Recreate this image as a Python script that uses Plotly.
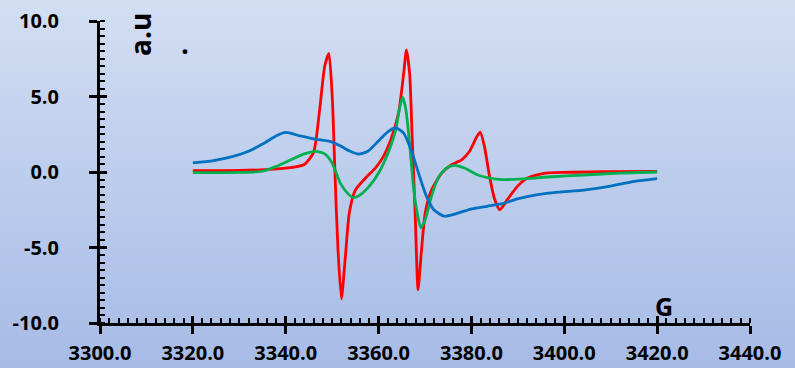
import plotly.graph_objects as go

# ---- data ----
red_x = [3320, 3330, 3340, 3344, 3346, 3347.3, 3348.4, 3349.3, 3350.05, 3350.6, 3351.25, 3352.0,
         3352.8, 3353.7, 3355.0, 3357.2, 3359.3, 3361.0, 3362.6, 3364.3, 3365.4, 3366.0, 3366.7,
         3367.2, 3367.9, 3368.5, 3369.2, 3370.05, 3371.4, 3373.6, 3375.7, 3377.9, 3379.6, 3381.2,
         3381.9, 3382.8, 3383.9, 3385.0, 3386.1, 3387.8, 3389.9, 3392.1, 3395.4, 3399.8, 3409.6, 3420]
red_y = [0.09, 0.1, 0.25, 0.5, 1.3, 4.1, 7.0, 7.86, 4.8, 0.0, -5.1, -8.4,
         -5.8, -2.7, -1.2, -0.4, 0.26, 1.0, 2.1, 3.9, 6.5, 8.08, 6.5,
         2.6, -2.9, -7.8, -5.35, -2.7, -1.2, -0.07, 0.48, 0.8, 1.37, 2.36,
         2.64, 1.7, -0.29, -1.8, -2.5, -1.8, -0.95, -0.4, -0.1, -0.02, 0.02, 0.04]

green_x = [3320, 3330, 3335, 3338, 3341, 3344, 3346.4, 3348.4, 3350, 3351.7, 3353.3, 3354.6,
           3356.1, 3358.3, 3360.4, 3362.6, 3363.7, 3364.6, 3365.2, 3365.9, 3366.8, 3367.5,
           3368.3, 3369.1, 3370.05, 3371.4, 3373.0, 3374.6, 3376.3, 3378.5, 3381.2, 3383.9,
           3386.7, 3391.0, 3396.5, 3404.2, 3411.8, 3420]
green_y = [-0.04, -0.03, 0.05, 0.37, 0.8, 1.2, 1.37, 1.2, 0.6, -0.7, -1.4, -1.7,
           -1.5, -0.84, 0.15, 1.7, 2.8, 4.34, 4.96, 4.1, 1.5, -0.95,
           -2.7, -3.7, -3.15, -1.6, -0.29, 0.26, 0.44, 0.26, -0.18, -0.4,
           -0.5, -0.46, -0.33, -0.2, -0.07, 0.0]

blue_x = [3320, 3324.4, 3328.7, 3332, 3335.3, 3338.0, 3340, 3343, 3346.2, 3349.5, 3351.7, 3353.9,
          3355.7, 3357.7, 3359.9, 3362.1, 3363.7, 3365.4, 3367.0, 3368.6, 3370.3, 3371.9, 3374.1,
          3376.8, 3380.1, 3383.4, 3386.7, 3389.9, 3394.3, 3398.7, 3404.2, 3409.6, 3415.1, 3420]
blue_y = [0.6, 0.75, 1.03, 1.37, 1.9, 2.4, 2.62, 2.4, 2.18, 2.03, 1.74, 1.37,
          1.19, 1.37, 2.03, 2.69, 2.93, 2.58, 1.48, -0.07, -1.6, -2.5, -2.93,
          -2.75, -2.44, -2.27, -2.1, -1.78, -1.5, -1.34, -1.2, -0.95, -0.62, -0.44]

x_ticks = [3300, 3320, 3340, 3360, 3380, 3400, 3420, 3440]
x_ticktext = ["3300.0", "3320.0", "3340.0", "3360.0", "3380.0", "3400.0", "3420.0", "3440.0"]
y_ticks = [-10, -5, 0, 5, 10]
y_ticktext = ["-10.0", "-5.0", "0.0", "5.0", "10.0"]

# ---- figure ----
W, H = 795, 368
ML, MR, MT, MB = 100, 45, 21, 45
pw, ph = W - ML - MR, H - MT - MB

fig = go.Figure()
line_style = dict(width=2.8, shape="spline", smoothing=0.6)
fig.add_trace(go.Scatter(x=red_x, y=red_y, mode="lines", line=dict(color="#FF0000", **line_style), showlegend=False))
fig.add_trace(go.Scatter(x=green_x, y=green_y, mode="lines", line=dict(color="#00B050", **line_style), showlegend=False))
fig.add_trace(go.Scatter(x=blue_x, y=blue_y, mode="lines", line=dict(color="#0070C0", **line_style), showlegend=False))
# invisible trace for overlay axes (inner half of major ticks)
fig.add_trace(go.Scatter(x=[3300], y=[-10], xaxis="x2", yaxis="y2", mode="markers",
                         marker=dict(opacity=0), showlegend=False, hoverinfo="skip"))

# gradient background bands
top = (210, 222, 242)
bot = (166, 187, 230)
nb = 46
shapes = []
for i in range(nb):
    p0 = i * H / nb
    p1 = (i + 1) * H / nb + 1
    t = (i + 0.5) / nb
    c = tuple(round(top[k] + (bot[k] - top[k]) * t) for k in range(3))
    shapes.append(dict(type="rect", xref="paper", yref="paper",
                       x0=-ML / pw, x1=(W - ML) / pw,
                       y0=(H - MB - p1) / ph, y1=(H - MB - p0) / ph,
                       fillcolor="rgb(%d,%d,%d)" % c, line=dict(width=0), layer="below"))

tickfont = dict(family="Open Sans", size=20, color="black", weight="bold")
afont = dict(family="Open Sans", size=28, color="black", weight="bold")

fig.update_layout(
    width=W, height=H,
    margin=dict(l=ML, r=MR, t=MT, b=MB, autoexpand=False),
    paper_bgcolor="rgb(188,204,236)",
    plot_bgcolor="rgba(0,0,0,0)",
    shapes=shapes,
    xaxis=dict(range=[3300, 3440], tickvals=x_ticks, ticktext=x_ticktext, tickfont=tickfont,
               showline=True, linecolor="black", linewidth=3, showgrid=False, zeroline=False,
               automargin=False,
               ticks="outside", ticklen=8, tickwidth=2.5, tickcolor="black", ticklabelstandoff=2,
               minor=dict(dtick=2, tick0=3300, ticks="inside", ticklen=5, tickwidth=2, tickcolor="black", showgrid=False)),
    yaxis=dict(range=[-10, 10], tickvals=y_ticks, ticktext=y_ticktext, tickfont=tickfont,
               showline=True, linecolor="black", linewidth=3, showgrid=False, zeroline=False,
               automargin=False,
               ticks="outside", ticklen=8, tickwidth=2.5, tickcolor="black", ticklabelstandoff=26,
               minor=dict(dtick=0.5, tick0=0, ticks="inside", ticklen=5, tickwidth=2, tickcolor="black", showgrid=False)),
    xaxis2=dict(range=[3300, 3440], overlaying="x", anchor="y2", side="bottom", tickvals=x_ticks,
                showticklabels=False, ticks="inside", ticklen=7, tickwidth=2.5, tickcolor="black",
                showline=False, showgrid=False, zeroline=False, automargin=False),
    yaxis2=dict(range=[-10, 10], overlaying="y", anchor="x2", side="left", tickvals=y_ticks,
                showticklabels=False, ticks="inside", ticklen=7, tickwidth=2.5, tickcolor="black",
                showline=False, showgrid=False, zeroline=False, automargin=False),
    annotations=[
        dict(text="a.u", xref="paper", yref="paper", x=(140 - ML) / pw, y=(H - MB - 35) / ph,
             xanchor="center", yanchor="middle",
             showarrow=False, textangle=-90, font=afont),
        dict(text=".", xref="paper", yref="paper", x=(185 - ML) / pw, y=(H - MB - 43) / ph,
             xanchor="center", yanchor="middle", showarrow=False, font=afont),
        dict(text="G", xref="paper", yref="paper", x=(664 - ML) / pw, y=(H - MB - 306) / ph,
             xanchor="center", yanchor="middle",
             showarrow=False, font=dict(family="Open Sans", size=25, color="black", weight="bold")),
    ],
)

fig.write_html("out.html", config={"displayModeBar": False},
               post_script="document.body.style.margin='0';document.body.style.overflow='hidden';")
